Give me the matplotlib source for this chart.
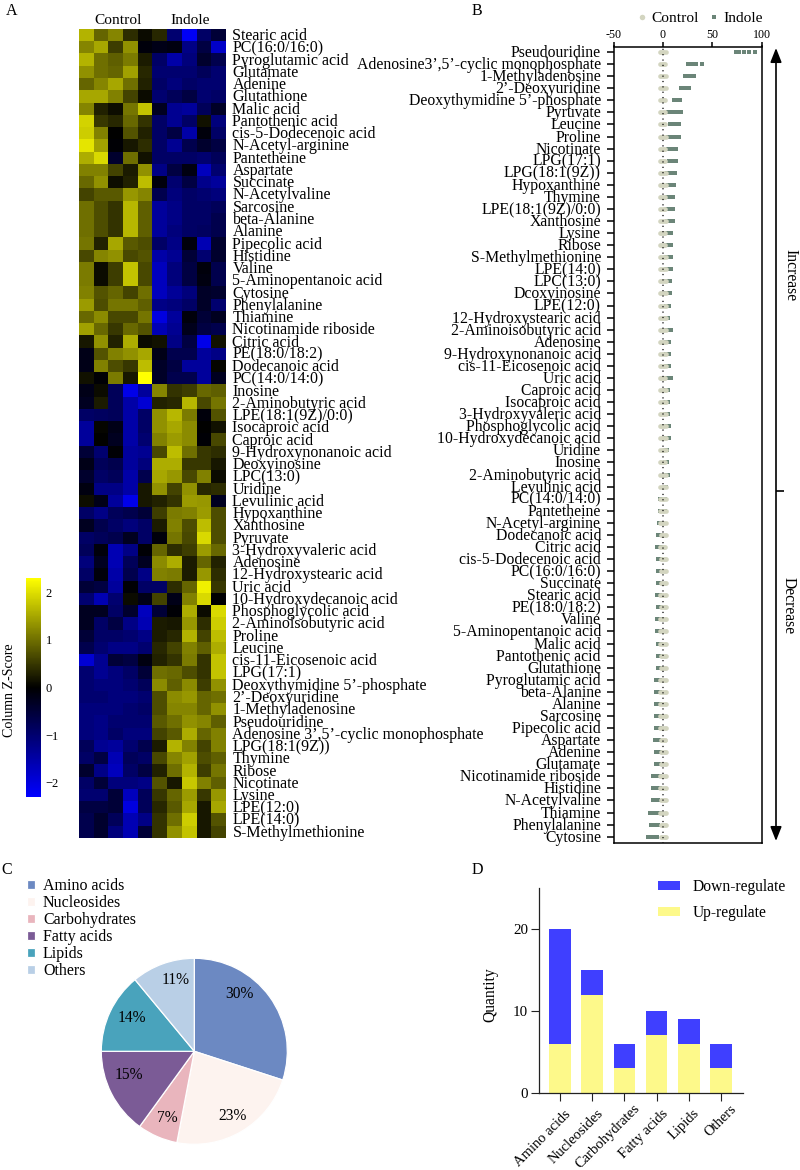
import numpy as np
import matplotlib
matplotlib.use("Agg")
import matplotlib.pyplot as plt
from matplotlib.colors import LinearSegmentedColormap, Normalize
from matplotlib.cm import ScalarMappable
from matplotlib.lines import Line2D
from matplotlib.transforms import ScaledTranslation

plt.rcParams['font.family'] = ['Liberation Serif', 'DejaVu Serif']

W, H = 800, 1170

# ---- Panel A: metabolite z-scores (five control, five indole columns) ----
heat_labels = [
    "Stearic acid", "PC(16:0/16:0)", "Pyroglutamic acid", "Glutamate", "Adenine", "Glutathione",
    "Malic acid", "Pantothenic acid", "cis-5-Dodecenoic acid", "N-Acetyl-arginine", "Pantetheine",
    "Aspartate", "Succinate", "N-Acetylvaline", "Sarcosine", "beta-Alanine", "Alanine",
    "Pipecolic acid", "Histidine", "Valine", "5-Aminopentanoic acid", "Cytosine", "Phenylalanine",
    "Thiamine", "Nicotinamide riboside", "Citric acid", "PE(18:0/18:2)", "Dodecanoic acid",
    "PC(14:0/14:0)", "Inosine", "2-Aminobutyric acid", "LPE(18:1(9Z)/0:0)", "Isocaproic acid",
    "Caproic acid", "9-Hydroxynonanoic acid", "Deoxyinosine", "LPC(13:0)", "Uridine",
    "Levulinic acid", "Hypoxanthine", "Xanthosine", "Pyruvate", "3-Hydroxyvaleric acid",
    "Adenosine", "12-Hydroxystearic acid", "Uric acid", "10-Hydroxydecanoic acid",
    "Phosphoglycolic acid", "2-Aminoisobutyric acid", "Proline", "Leucine",
    "cis-11-Eicosenoic acid", "LPG(17:1)", "Deoxythymidine 5’-phosphate", "2’-Deoxyuridine",
    "1-Methyladenosine", "Pseudouridine", "Adenosine 3’,5’-cyclic monophosphate", "LPG(18:1(9Z))",
    "Thymine", "Ribose", "Nicotinate", "Lysine", "LPE(12:0)", "LPE(14:0)", "S-Methylmethionine",
]
heat_values = [
    [1.6, .9, 1.2, .4, .1, .35, -1.0, -2.2, -.9, -.5],
    [1.2, 1.5, .55, 1.3, -.1, -.2, -.15, -1.2, -.6, -1.8],
    [1.6, 1.0, .85, 1.1, .25, -.9, -1.5, -1.1, -.4, -.7],
    [1.3, 1.0, .9, 1.45, .35, -1.0, -1.0, -1.0, -.8, -1.0],
    [.9, 1.2, 1.5, 1.0, .3, -.9, -1.1, -.9, -1.0, -1.0],
    [1.5, 1.5, 1.15, .6, .1, -1.0, -.8, -.6, -1.0, -.9],
    [1.2, .3, .12, 1.05, 1.75, -.3, -1.3, -1.4, -.8, -.35],
    [1.9, .5, .35, .95, .45, -.9, -1.3, -.9, .15, -1.1],
    [1.85, 1.15, 0, .75, .3, -.9, -.6, -1.5, -.1, -.9],
    [2.05, 1.45, -.05, .2, .4, -.9, -1.3, -.7, -.4, -.6],
    [1.55, 1.95, -.4, 1.0, .15, -.9, -.9, -.9, -1.0, -.8],
    [1.15, 1.15, .6, .25, 1.3, -1.2, -.6, -.15, -1.7, -1.0],
    [.95, 1.3, .12, .3, 1.7, -.1, -1.0, -.6, -1.25, -1.4],
    [.6, .8, .8, 1.35, 1.2, -.7, -1.1, -.9, -1.0, -1.1],
    [1.0, .7, .45, 1.65, .85, -1.4, -1.2, -.9, -.9, -.8],
    [1.0, .7, .45, 1.65, .85, -1.4, -1.2, -.9, -.9, -.7],
    [1.0, .7, .45, 1.65, .85, -1.4, -1.1, -.9, -.85, -.7],
    [1.05, .3, 1.5, .8, .7, -.9, -1.2, -.1, -1.6, -.4],
    [.65, 1.2, 1.3, .65, .75, -1.5, -1.3, -.5, -1.0, -.4],
    [1.1, .1, .55, 1.75, .65, -1.7, -1.1, -.6, -.1, -.7],
    [1.1, .1, .55, 1.75, .65, -1.7, -1.1, -.6, -.15, -.7],
    [1.15, .75, .9, .6, 1.0, -1.7, -1.35, -1.1, -.35, -.4],
    [1.4, .7, 1.05, 1.05, .85, -1.2, -1.1, -.9, -.35, -1.0],
    [.95, 1.25, .65, .65, 1.05, -2.0, -1.4, -.1, -.5, -.3],
    [1.45, .95, .5, .95, .75, -1.6, -1.3, -.25, -.6, -.7],
    [.2, 1.3, .3, 1.55, .1, .15, -1.2, -.6, -2.1, .15],
    [-.2, .75, 1.15, 1.3, 1.5, -.2, -.7, -.7, -1.4, -1.2],
    [-.2, 1.15, .7, .5, 1.7, -.35, -.6, -1.4, -1.4, .05],
    [.15, -.05, 1.1, .2, 2.3, -.35, -.7, -.7, -1.4, -.3],
    [-.2, .1, -.8, -2.1, -1.4, 1.2, .45, .55, .95, .85],
    [-.3, .25, -.8, -1.5, -1.9, .3, .35, 1.65, .65, 1.05],
    [-.9, -.85, -.8, -1.5, -.9, 1.3, 1.65, 1.1, -.1, .75],
    [-1.4, .05, -.2, -1.5, -.9, 1.3, 1.5, 1.25, 0, .15],
    [-1.4, 0, -.3, -1.5, -1.0, 1.15, 1.4, 1.25, -.05, .65],
    [-.5, -1.0, -.05, -1.4, -1.3, .65, 1.7, 1.0, .5, .4],
    [-.2, -.8, -.7, -1.4, -1.1, 1.55, 1.55, .5, .5, .2],
    [-.4, -.9, -.8, -1.5, -.7, 1.5, 1.35, .65, 1.15, .1],
    [-.15, -1.2, -1.2, -1.5, .2, 1.3, .6, 1.3, .35, .4],
    [.12, -.2, -1.4, -2.1, .2, .3, .45, 1.4, 1.35, -.3],
    [-.9, -1.2, -.8, -.7, -.5, .55, 1.1, 1.15, 1.4, .7],
    [-.3, -.7, -.9, -1.1, -.9, .25, 1.15, .7, 1.7, .7],
    [-.9, -.8, -.7, -.3, -.9, -.1, 1.05, .65, 1.95, .7],
    [-.8, -.1, -1.6, -1.2, -.05, .9, .4, .55, 1.4, .95],
    [-1.1, -.3, -1.6, -.8, -.3, 1.25, 1.55, .25, .9, .3],
    [-.9, -.1, -1.5, -.7, -1.2, 1.15, 1.1, .25, 1.35, .4],
    [-.5, -.6, -1.4, -.05, -.9, -.9, .4, .9, 2.15, .5],
    [-1.0, -1.6, -1.0, .1, -.2, .6, -.2, 1.15, 1.95, -.02],
    [-.3, -.3, -.9, -.4, -1.7, -.5, -.05, 1.55, .1, 1.95],
    [-.3, -.9, -.6, -1.2, -1.6, .25, .2, 1.35, .4, 1.85],
    [-.5, -.9, -.9, -1.0, -1.2, .25, .35, 1.6, .6, 1.7],
    [-.7, -1.0, -1.2, -1.2, -1.0, .35, .6, 1.15, .85, 1.55],
    [-1.9, -1.3, -.5, -.6, -.15, .3, .45, 1.1, .45, 1.75],
    [-1.0, -1.3, -1.1, -.9, -.5, 1.0, .95, .7, .45, 1.75],
    [-1.0, -1.1, -1.1, -1.0, -.8, 1.25, .85, 1.25, .55, 1.3],
    [-1.0, -1.0, -1.1, -1.1, -1.0, .7, 1.25, 1.35, .9, 1.0],
    [-1.1, -1.1, -1.1, -1.0, -.9, .7, 1.2, 1.2, .9, 1.3],
    [-1.1, -1.2, -1.0, -1.0, -1.0, .8, 1.0, 1.3, 1.2, .85],
    [-1.1, -1.2, -.9, -1.1, -1.1, .6, .8, 1.55, .9, 1.15],
    [-.8, -1.3, -1.4, -1.0, -.7, .25, 1.6, 1.15, .6, 1.15],
    [-.9, -.6, -1.6, -.8, -.9, .65, 1.2, 1.45, .7, .85],
    [-.4, -1.2, -1.7, -.9, -.6, .3, 1.0, 1.6, .55, 1.05],
    [-.9, -.5, -1.1, -1.1, -1.2, .75, .2, 1.8, 1.15, .85],
    [-1.0, -1.0, -.5, -1.7, -.8, .5, .9, 1.4, .5, 1.35],
    [-.6, -.6, -.5, -2.0, -.8, .35, .8, 1.5, .2, 1.5],
    [-.7, -.4, -.8, -1.6, -1.2, .45, 1.0, 1.85, .2, .75],
    [-.7, -.4, -1.1, -1.6, -.5, .45, 1.3, 1.75, .2, .6],
]
colorbar_ticks = [-2, -1, 0, 1, 2]

# ---- Panel B: relative change of each replicate ----
change_labels = [
    "Pseudouridine", "Adenosine3’,5’-cyclic monophosphate", "1-Methyladenosine", "2’-Deoxyuridine",
    "Deoxythymidine 5’-phosphate", "Pyruvate", "Leucine", "Proline", "Nicotinate", "LPG(17:1)",
    "LPG(18:1(9Z))", "Hypoxanthine", "Thymine", "LPE(18:1(9Z)/0:0)", "Xanthosine", "Lysine", "Ribose",
    "S-Methylmethionine", "LPE(14:0)", "LPC(13:0)", "Dcoxyinosine", "LPE(12:0)",
    "12-Hydroxystearic acid", "2-Aminoisobutyric acid", "Adenosine", "9-Hydroxynonanoic acid",
    "cis-11-Eicosenoic acid", "Uric acid", "Caproic acid", "Isocaproic acid", "3-Hydroxyvaleric acid",
    "Phosphoglycolic acid", "10-Hydroxydecanoic acid", "Uridine", "Inosine", "2-Aminobutyric acid",
    "Levulinic acid", "PC(14:0/14:0)", "Pantetheine", "N-Acetyl-arginine", "Dodecanoic acid",
    "Citric acid", "cis-5-Dodecenoic acid", "PC(16:0/16:0)", "Succinate", "Stearic acid",
    "PE(18:0/18:2)", "Valine", "5-Aminopentanoic acid", "Malic acid", "Pantothenic acid", "Glutathione",
    "Pyroglutamic acid", "beta-Alanine", "Alanine", "Sarcosine", "Pipecolic acid", "Aspartate",
    "Adenine", "Glutamate", "Nicotinamide riboside", "Histidine", "N-Acetylvaline", "Thiamine",
    "Phenylalanine", "Cytosine",
]
indole_reps = [
    [74, 77, 82, 87, 93], [25, 28, 31, 34, 40], [22, 25, 27, 30, 32], [18, 20, 23, 25, 27],
    [11, 13, 14, 16, 17], [5, 9, 12, 14, 18], [7, 9, 11, 14, 16], [5.5, 7, 9, 13, 16],
    [5, 7, 9, 11, 13], [6, 8, 10, 12, 13], [4.5, 7, 9, 11, 12.5], [5.5, 7, 8, 9.5, 11],
    [4.5, 6, 7, 9, 10.5], [3.5, 5, 7, 9, 10.5], [4, 5.5, 7, 8.5, 10], [3.5, 5, 6, 7, 8],
    [3.5, 4.5, 6, 7, 8], [3.5, 5, 6, 7, 8.5], [3.5, 5, 6, 7, 8.5], [3.5, 5, 6, 7, 7.5],
    [3.5, 4.5, 5.5, 6.5, 7.2], [3, 4, 5, 6, 6.7], [3, 3.5, 4.5, 5, 5.5], [3.5, 5, 6, 7, 7.8],
    [3, 4, 5, 5.5, 6], [3, 4, 5, 5.5, 6], [3, 4, 5, 5.5, 6.2], [3.5, 5, 6, 7, 7.8],
    [2.5, 3.5, 4, 4.5, 5], [2.5, 3.5, 4, 4.5, 5], [2.5, 3.5, 4, 4.5, 5], [3, 4, 5, 5.5, 6],
    [3, 4, 5, 5.5, 6], [2.5, 3, 3.5, 4, 4.6], [2, 2.5, 3, 3.5, 4], [2.5, 3.5, 4, 4.5, 5],
    [2, 2.5, 3, 3.3, 3.7], [-3, -2.5, -2, -1, 2.5], [-3.3, -2.8, -2, -1, 2.5], [-3.8, -3.2, -2.6, -2, -1.5],
    [-4.8, -4.2, -3.6, -3, -2], [-5.8, -5, -4.2, -3.5, -2], [-4.8, -4.2, -3.6, -3, -2],
    [-4.8, -4.2, -3.6, -3, -2], [-4.8, -4.2, -3.6, -3, -2], [-6.3, -5.5, -4.6, -3.5, -2.5],
    [-4.8, -4.2, -3.6, -3, -2], [-5.8, -5, -4.2, -3.5, -2.5], [-5.8, -5, -4.2, -3.5, -2.5],
    [-5.3, -4.6, -3.8, -3, -2], [-4.8, -4.2, -3.6, -3, -2], [-4.8, -4.2, -3.6, -3, -2],
    [-6.5, -5.6, -4.8, -4, -3], [-6.5, -5.6, -4.8, -4, -3], [-6.8, -6, -5, -4, -3],
    [-6.8, -6, -5, -4, -3], [-7.2, -6.2, -5.2, -4.2, -3], [-7.8, -6.8, -5.8, -4.8, -3.5],
    [-6.5, -5.6, -4.8, -4, -3], [-6.5, -5.6, -4.8, -4, -3], [-9.5, -8, -6.5, -4.5, -3],
    [-10.2, -8.5, -6.5, -4.5, -3], [-9.5, -8.5, -7.2, -5.8, -4.5], [-13.5, -11, -8.5, -6, -3],
    [-11.5, -10, -8.5, -6.5, -4.5], [-15.5, -13, -10.5, -8, -5.5],
]
control_reps = [
    [-2.6, -1.5, 0, 1.5, 2.9], [-2.6, -1.2, .2, 1.4, 2.6], [-2.8, -1.4, 0, 1.4, 2.8],
    [-2.6, -1, .4, 1.6, 2.9], [-2.6, -1.2, 0, 1.2, 2.6], [-2.9, -1.4, 0, 1.4, 2.4],
    [-2.6, -1.2, 0, 1.2, 2.7], [-2.8, -1.4, 0, 1.4, 3], [-2.8, -1.4, 0, 1.2, 2.4],
    [-2.8, -1.4, 0, 1.2, 2.6], [-2.8, -1.4, 0, 1.4, 3], [-3, -1.5, 0, 1.4, 2.8],
    [-3.3, -1.8, 0, 1.2, 2.4], [-3.1, -1.6, 0, 1.2, 2.4], [-2.7, -1.2, .4, 1.8, 3.2],
    [-3.2, -1.6, 0, 1.2, 2.4], [-3.2, -1.6, 0, 1.2, 2.4], [-2.8, -1.4, 0, 1.6, 2.8],
    [-2.8, -1.4, 0, 1.6, 2.8], [-3, -1.4, 0, 1.8, 3.4], [-3, -1.4, 0, 1.8, 3.2],
    [-3, -1.4, 0, 1.8, 3.4], [-2.8, -1.2, .4, 2, 3.6], [-3, -1.4, 0, 1.4, 2.8],
    [-2.8, -1.4, 0, 1.6, 3], [-2.6, -1.2, .4, 1.8, 3.2], [-3, -1.4, 0, 1.4, 3],
    [-3, -1.4, 0, 1.4, 2.6], [-2.7, -1.2, .4, 1.8, 3.2], [-2.7, -1.2, .4, 1.8, 3.2],
    [-2.8, -1.4, 0, 1.4, 2.8], [-3, -1.4, 0, 1.6, 3], [-2.8, -1.2, .4, 1.8, 3],
    [-2.5, -1, .4, 1.6, 2.8], [-3, -1.4, 0, 1.4, 2.6], [-2.6, -1.2, .4, 1.6, 3],
    [-2.6, -1, .4, 1.6, 2.8], [-2.6, -1.2, 0, 1.2, 2.8], [-3, -1.4, 0, 1.4, 3],
    [-2.6, -1.2, .4, 1.6, 3], [-2, -.8, .6, 1.8, 3.2], [-2.8, -1.2, 0, 1.4, 2.6],
    [-1.8, -.4, .8, 1.8, 2.8], [-1.8, -.4, .8, 2, 2.8], [-1.8, -.4, .8, 2, 2.8],
    [-2.5, -1, .4, 1.8, 2.8], [-1.8, -.4, .8, 2, 2.8], [-2.4, -.8, .6, 2, 3.2],
    [-2.4, -.8, .6, 1.8, 3], [-2.4, -.8, .6, 1.8, 3], [-1.8, -.4, .8, 2, 2.8],
    [-1.8, -.4, .8, 2, 2.8], [-2.4, -1, .4, 1.8, 3], [-2.4, -1, .4, 1.8, 3],
    [-2.4, -.8, .6, 2, 3.2], [-2.4, -1, .4, 1.8, 3], [-2.4, -1, .4, 1.8, 3],
    [-2.2, -.6, .6, 1.8, 2.6], [-2.2, -.6, .8, 2, 3], [-2.2, -.8, .6, 1.8, 2.8],
    [-2.4, -1, .4, 1.8, 3], [-2.6, -1, .4, 1.8, 3], [-2.2, -.6, .8, 2, 3],
    [-2.4, -1, .4, 1.8, 3], [-2.2, -.6, .8, 2, 3], [-2.2, -.6, .8, 2, 3],
]
change_ticks = [-50, 0, 50, 100]

# ---- Panel C: metabolite classes ----
class_labels = ["Amino acids", "Nucleosides", "Carbohydrates", "Fatty acids", "Lipids", "Others"]
class_shares = [30, 23, 7, 15, 14, 11]
class_colors = ["#6C89C2", "#FDF3EF", "#E9B5BD", "#7B5B96", "#49A3BC", "#B9CFE6"]

# ---- Panel D: direction of change per class ----
up_counts = [6, 12, 3, 7, 6, 3]
down_counts = [14, 3, 3, 3, 3, 3]
quantity_ticks = [0, 10, 20]


def pt(px):
    """Pixel size at 100 dpi expressed in points."""
    return px * 0.72


def axes_px(fig, left, top, right, bottom):
    """Add axes whose edges are given in figure pixels, measured from the top left."""
    return fig.add_axes([left / W, 1 - bottom / H, (right - left) / W, (bottom - top) / H])


def nudge(label, dx_px, dy_px):
    """Shift a tick label by a number of pixels (dy positive is upward)."""
    label.set_transform(label.get_transform()
                        + ScaledTranslation(dx_px / 100, dy_px / 100, fig.dpi_scale_trans))


fig = plt.figure(figsize=(W / 100, H / 100), dpi=100, facecolor="white")

# Transparent layer in pixel coordinates for panel letters and annotations
overlay = fig.add_axes([0, 0, 1, 1], zorder=10)
overlay.set_xlim(0, W)
overlay.set_ylim(H, 0)
overlay.axis("off")

for letter, x, y in [("A", 6, 15), ("B", 472, 15), ("C", 1, 874), ("D", 472, 874)]:
    overlay.text(x, y, letter, fontsize=pt(16), ha="left", va="baseline")

# Panel A
heat_cmap = LinearSegmentedColormap.from_list("blue_black_yellow", ["#0000FF", "#000000", "#FFFF00"])
heat_norm = Normalize(-2.3, 2.3)
ax_a = axes_px(fig, 79, 29, 226, 838)
ax_a.imshow(np.array(heat_values), cmap=heat_cmap, norm=heat_norm, aspect="auto", interpolation="nearest")
ax_a.set_xticks([])
ax_a.yaxis.tick_right()
ax_a.set_yticks(range(len(heat_labels)), heat_labels, fontsize=pt(16))
ax_a.tick_params(axis="y", length=0, pad=pt(6.5))
for label in ax_a.get_yticklabels():
    nudge(label, 0, 1)
for spine in ax_a.spines.values():
    spine.set_visible(False)
overlay.text(118.5, 24, "Control", fontsize=pt(15.4), ha="center", va="baseline")
overlay.text(190.5, 24, "Indole", fontsize=pt(15.4), ha="center", va="baseline")

cax = axes_px(fig, 26, 578, 40.7, 797)
cbar = fig.colorbar(ScalarMappable(norm=heat_norm, cmap=heat_cmap), cax=cax, ticks=colorbar_ticks)
cbar.outline.set_visible(False)
cbar.ax.tick_params(length=0, labelsize=pt(12.5), pad=pt(5))
overlay.text(10, 690, "Column Z-Score", fontsize=pt(14), rotation=90, ha="center", va="center")

# Panel B
ax_b = axes_px(fig, 613.5, 46.5, 761.5, 842.7)
rows = np.arange(len(change_labels))
ax_b.axvline(0, color="black", lw=1.1, ls=(0, (0.01, 3.5)), dash_capstyle="round", zorder=5)
ax_b.scatter(np.array(indole_reps).ravel(), np.repeat(rows, 5), marker="s", s=7.5,
             color="#6B8578", linewidths=0, zorder=3, label="Indole")
ax_b.scatter(np.array(control_reps).ravel(), np.repeat(rows, 5), marker="o", s=11,
             color="#D3D5C0", linewidths=0, zorder=4, label="Control")
ax_b.set_xlim(-50, 100)
ax_b.set_ylim(65.5, -0.456)
ax_b.xaxis.tick_top()
ax_b.set_xticks(change_ticks, [str(tick) for tick in change_ticks])
ax_b.tick_params(axis="x", length=pt(5), width=1.1, labelsize=pt(12), pad=pt(0.5))
ax_b.set_yticks(rows, change_labels, fontsize=pt(15.8))
ax_b.tick_params(axis="y", length=pt(7.5), width=1.1, pad=pt(5))
for label in ax_b.get_yticklabels():
    nudge(label, 0, 1)
for spine in ax_b.spines.values():
    spine.set_linewidth(1.1)

legend_b = overlay.legend(
    handles=[
        Line2D([], [], ls="", marker="o", ms=pt(5.5), color="#D3D5C0", mew=0, label="Control"),
        Line2D([], [], ls="", marker="s", ms=pt(4), color="#6B8578", mew=0, label="Indole"),
    ],
    ncol=2, frameon=False, fontsize=pt(15.4), loc="center left", bbox_to_anchor=(634, 18),
    bbox_transform=overlay.transData, borderpad=0, borderaxespad=0,
    handlelength=1.0, handletextpad=0.15, columnspacing=0.45)

overlay.annotate("", xy=(776, 841), xytext=(776, 48), annotation_clip=False,
                 arrowprops=dict(arrowstyle="<|-|>,head_length=8.6,head_width=3.4", mutation_scale=1,
                                 color="black", lw=1.2, shrinkA=0, shrinkB=0))
overlay.plot([776, 784], [491, 491], color="black", lw=1.2, solid_capstyle="butt")
overlay.text(790, 275, "Increase", fontsize=pt(15.6), rotation=270, ha="center", va="center")
overlay.text(789, 606, "Decrease", fontsize=pt(15.6), rotation=270, ha="center", va="center")

# Panel C
ax_c = axes_px(fig, 194.3 - 93, 1051.3 - 93, 194.3 + 93, 1051.3 + 93)
wedges, _ = ax_c.pie(class_shares, colors=class_colors, startangle=90, counterclock=False, radius=1,
                     wedgeprops=dict(edgecolor="white", linewidth=0.9))
ax_c.set_xlim(-1, 1)
ax_c.set_ylim(-1, 1)
share_label_spots = [(239, 994), (232.7, 1116), (167, 1117.7), (128.7, 1075), (131.7, 1017.7), (176, 980)]
for share, (x, y) in zip(class_shares, share_label_spots):
    overlay.text(x, y, f"{share}%", fontsize=pt(15.5), ha="center", va="center")
overlay.legend(wedges, class_labels, frameon=False, fontsize=pt(16), loc="upper left",
               bbox_to_anchor=(26.7, 878), bbox_transform=overlay.transData, borderpad=0,
               borderaxespad=0, handlelength=0.5, handleheight=0.5, handletextpad=0.52,
               labelspacing=0.06)
overlay.add_artist(legend_b)

# Panel D
ax_d = axes_px(fig, 539, 888.4, 743, 1092.7)
positions = np.arange(len(class_labels))
bars_up = ax_d.bar(positions, up_counts, width=0.67, color="#FDF98A", label="Up-regulate")
bars_down = ax_d.bar(positions, down_counts, width=0.67, bottom=up_counts, color="#3F3FFF",
                     label="Down-regulate")
ax_d.set_xlim(-0.652, 5.683)
ax_d.set_ylim(0, 25)
ax_d.set_yticks(quantity_ticks)
ax_d.set_xticks(positions)
ax_d.set_xticklabels(class_labels, rotation=45, ha="right", rotation_mode="anchor")
ax_d.tick_params(axis="both", length=pt(8), width=0.8, labelsize=pt(15), color="#222222", pad=pt(3))
for label in ax_d.get_xticklabels():
    label.set_fontsize(pt(14.6))
for label, dx, dy in zip(ax_d.get_xticklabels(), [4, 5, 9, 5, 4, 9], [-4, -3, 2, -3, -3, 1]):
    nudge(label, dx, dy)
for side in ("top", "right"):
    ax_d.spines[side].set_visible(False)
for side in ("left", "bottom"):
    ax_d.spines[side].set_linewidth(0.9)
    ax_d.spines[side].set_color("#222222")
overlay.text(490, 995, "Quantity", fontsize=pt(15.5), rotation=90, ha="center", va="center")
ax_d.legend([bars_down, bars_up], ["Down-regulate", "Up-regulate"], frameon=False, fontsize=pt(15.5),
            loc="upper left", bbox_to_anchor=(658, 879), bbox_transform=overlay.transData,
            borderpad=0, borderaxespad=0, handlelength=1.42, handleheight=0.5, handletextpad=0.82,
            labelspacing=0.62)

fig.savefig("out.png", dpi=100, facecolor="white")
